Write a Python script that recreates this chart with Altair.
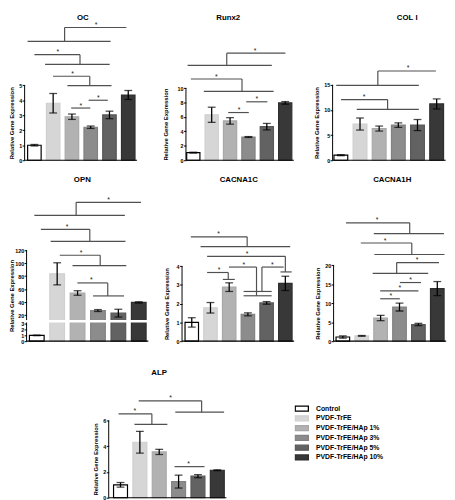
import altair as alt
import pandas as pd

FONT = "Liberation Sans"

categories = ["Control", "PVDF-TrFE", "PVDF-TrFE/HAp 1%", "PVDF-TrFE/HAp 3%",
              "PVDF-TrFE/HAp 5%", "PVDF-TrFE/HAp 10%"]
fill_colors = ["#ffffff", "#d6d6d6", "#b2b2b2", "#8c8c8c", "#626262", "#383838"]
stroke_colors = ["#000000", "#cfcfcf", "#a8a8a8", "#828282", "#585858", "#2e2e2e"]

# ---- values (mean, error) ----
oc_mean = [1.0, 3.8, 2.9, 2.2, 3.02, 4.35]
oc_err = [0.05, 0.65, 0.18, 0.08, 0.25, 0.3]
oc_ticks = [0, 1, 2, 3, 4, 5]
# bracket: upper x1, upper x2, upper y, vertical x, lower x1, lower x2, lower y, star x
oc_brackets = [(1.61, 4.90, 8.85, 1.61, -0.36, 4.06, 7.93, 3.28),
               (0.0, 2.43, 7.04, 2.43, 0.57, 4.01, 6.39, 1.25),
               (0.99, 2.95, 5.60, 2.95, 1.76, 4.11, 4.98, 2.03)]
# simple line: x1, x2, y, star x
oc_lines = [(1.96, 2.98, 3.48, 2.48), (2.89, 3.91, 4.0, 3.40)]

runx2_mean = [1.05, 6.3, 5.45, 3.22, 4.65, 7.95]
runx2_err = [0.06, 1.05, 0.45, 0.06, 0.45, 0.18]
runx2_ticks = [0, 2, 4, 6, 8, 10]
runx2_brackets = [(1.82, 5.01, 14.84, 1.82, -0.31, 4.27, 13.16, 3.36),
                  (-0.13, 2.65, 11.26, 2.65, 0.57, 4.37, 9.55, 1.25)]
runx2_lines = [(1.90, 3.02, 6.61, 2.49), (2.88, 4.03, 8.10, 3.45)]

col1_mean = [1.0, 7.2, 6.3, 7.0, 7.0, 11.2]
col1_err = [0.1, 1.2, 0.5, 0.45, 1.1, 1.0]
col1_ticks = [0, 5, 10, 15]
col1_brackets = [(1.93, 4.96, 17.76, 1.93, -0.24, 4.07, 14.90, 3.51),
                 (0.01, 2.44, 12.06, 2.44, 0.83, 4.07, 10.12, 1.21)]
col1_lines = []

opn_mean = [1.0, 83.5, 54.0, 27.0, 23.0, 39.5]
opn_err = [0.05, 17.0, 3.5, 1.5, 6.0, 1.0]
opn_ticks = [0, 1, 2, 3, 20, 40, 60, 80, 100, 120]
opn_brackets = [(1.93, 5.11, 193.5, 1.93, -0.12, 4.32, 173.5, 3.52),
                (0.20, 2.60, 151.9, 2.60, 0.68, 4.35, 133.5, 1.48),
                (1.13, 3.11, 112.1, 3.11, 1.75, 4.39, 96.0, 2.17),
                (1.99, 3.48, 69.5, 3.48, 2.76, 4.28, 49.5, 2.67)]
opn_lines = []

c1c_mean = [1.0, 1.78, 2.88, 1.43, 2.04, 3.08]
c1c_err = [0.25, 0.28, 0.23, 0.08, 0.07, 0.38]
c1c_ticks = [0, 1, 2, 3, 4]
c1c_brackets = [(-0.05, 2.96, 5.56, 2.96, 0.47, 5.26, 5.04, 1.43),
                (0.82, 5.0, 4.52, 5.0, 4.74, 5.34, 3.69, 2.96),
                (0.82, 1.95, 3.66, 1.95, 1.66, 2.30, 3.29, 1.46),
                (1.99, 3.46, 3.95, 3.46, 2.77, 4.27, 2.42, 2.78),
                (3.75, 4.91, 3.95, 3.75, 2.77, 4.27, 2.65, 4.30)]
c1c_lines = []

c1h_mean = [1.1, 1.4, 6.1, 9.0, 4.4, 13.85]
c1h_err = [0.3, 0.1, 0.7, 1.05, 0.3, 1.85]
c1h_ticks = [0, 5, 10, 15, 20]
c1h_brackets = [(0.17, 3.54, 31.15, 3.54, 1.64, 5.35, 28.31, 1.81),
                (0.95, 3.65, 25.84, 3.65, 1.67, 5.38, 22.83, 2.24),
                (2.85, 5.09, 20.69, 2.85, 1.58, 4.52, 17.86, 3.93)]
c1h_lines = [(3.02, 4.14, 15.44, 3.59), (1.98, 4.0, 13.23, 3.02), (1.98, 3.02, 11.17, 2.54)]

alp_mean = [1.0, 4.3, 3.55, 1.25, 1.67, 2.13]
alp_err = [0.18, 0.85, 0.2, 0.5, 0.12, 0.03]
alp_ticks = [0, 2, 4, 6]
alp_brackets = [(0.94, 4.19, 7.51, 4.19, 2.83, 5.35, 6.63, 2.58),
                (-0.10, 1.62, 6.5, 1.62, 0.72, 2.42, 5.69, 0.74)]
alp_lines = [(2.79, 4.34, 2.41, 3.52)]

LEGEND = alt.Legend(title=None, orient="none", legendX=292, legendY=391,
                    symbolType="M-1,-0.385H1V0.385H-1Z", symbolSize=180,
                    symbolStrokeWidth=1.3, clipHeight=10, rowPadding=0,
                    labelOffset=7, padding=0, labelFont=FONT, labelFontSize=7,
                    labelFontWeight="bold", labelColor="black")

LINE_COLOR = "#505050"


def make_panel(title, mean, err, ticks, brackets, lines, step, xmin, width, height,
               ydomain, yrange=None, title_dx=0.0, title_offset=2.0,
               ax_title_x=-14.0, ax_title_y=None, break_band=None):
    xmax = xmin + width / step
    xs = alt.Scale(domain=[xmin, xmax], nice=False, zero=False, padding=0)
    if yrange is None:
        ys = alt.Scale(domain=ydomain, nice=False, zero=False, padding=0)
    else:
        ys = alt.Scale(domain=ydomain, range=yrange, nice=False, zero=False, padding=0)

    bars = pd.DataFrame({
        "cat": categories,
        "idx": list(range(len(categories))),
        "mean": mean,
        "lo": [m - e for m, e in zip(mean, err)],
        "hi": [m + e for m, e in zip(mean, err)],
    })
    yaxis = alt.Axis(values=ticks, domain=False, grid=False, tickSize=2.5, tickWidth=1,
                     tickColor="black", labelFontSize=5.5, labelFontWeight="bold",
                     labelColor="black", labelPadding=0.5, labelFont=FONT,
                     title="Relative Gene Expression", titleFontSize=6,
                     titleFontWeight="bold", titleFont=FONT, titleColor="black",
                     titleAngle=270, titleX=ax_title_x, titleY=ax_title_y,
                     titleBaseline="middle", titleAlign="center")

    def X(field):
        return alt.X(field, type="quantitative", scale=xs, axis=None)

    def Y(field):
        return alt.Y(field, type="quantitative", scale=ys, axis=yaxis)

    bar_layer = alt.Chart(bars).mark_bar(orient="vertical", size=step * 0.72,
                                         strokeWidth=1.2).encode(
        x=X("idx"),
        y=Y("mean"),
        fill=alt.Fill("cat:N", scale=alt.Scale(domain=categories, range=fill_colors),
                      legend=LEGEND),
        stroke=alt.Stroke("cat:N", scale=alt.Scale(domain=categories, range=stroke_colors),
                          legend=LEGEND),
    )

    axis_df = pd.DataFrame({"x": [xmin], "xend": [5.47], "y0": [0], "ytop": [ticks[-1]]})
    yline = alt.Chart(axis_df).mark_rule(color="black", strokeWidth=1).encode(
        x=X("x"), y=Y("y0"), y2="ytop:Q")
    xline = alt.Chart(axis_df).mark_rule(color="black", strokeWidth=1.2).encode(
        x=X("x"), x2="xend:Q", y=Y("y0"))

    layers = [bar_layer, yline]
    if break_band is not None:
        band_df = pd.DataFrame({"x": [xmin - 0.12], "x2": [xmax], "y": [break_band[0]],
                                "y2": [break_band[1]]})
        layers.append(alt.Chart(band_df).mark_rect(fill="white").encode(
            x=X("x"), x2="x2:Q", y=Y("y"), y2="y2:Q"))
    layers.append(xline)

    err_rule = alt.Chart(bars).mark_rule(color="black", strokeWidth=1.3).encode(
        x=X("idx"), y=Y("lo"), y2="hi:Q")
    cap_lo = alt.Chart(bars).mark_tick(orient="horizontal", size=8, thickness=1.3,
                                       color="black").encode(x=X("idx"), y=Y("lo"))
    cap_hi = alt.Chart(bars).mark_tick(orient="horizontal", size=8, thickness=1.3,
                                       color="black").encode(x=X("idx"), y=Y("hi"))
    layers += [err_rule, cap_lo, cap_hi]

    hseg, vseg, stars = [], [], []
    for ux1, ux2, uy, vx, lx1, lx2, ly, sx in brackets:
        hseg.append({"x1": ux1, "x2": ux2, "y": uy})
        hseg.append({"x1": lx1, "x2": lx2, "y": ly})
        vseg.append({"x": vx, "y1": ly, "y2": uy})
        stars.append({"x": sx, "y": uy})
    for x1, x2, y, sx in lines:
        hseg.append({"x1": x1, "x2": x2, "y": y})
        stars.append({"x": sx, "y": y})

    if hseg:
        layers.append(alt.Chart(pd.DataFrame(hseg)).mark_rule(
            color=LINE_COLOR, strokeWidth=1.2).encode(
            x=X("x1"), x2="x2:Q", y=Y("y")))
    if vseg:
        layers.append(alt.Chart(pd.DataFrame(vseg)).mark_rule(
            color=LINE_COLOR, strokeWidth=1.2).encode(
            x=X("x"), y=Y("y1"), y2="y2:Q"))
    if stars:
        layers.append(alt.Chart(pd.DataFrame(stars)).mark_text(
            text="*", font=FONT, fontSize=7, baseline="alphabetic", align="center",
            color="#222222", dy=-0.5).encode(x=X("x"), y=Y("y")))

    return alt.layer(*layers).properties(
        width=width, height=height,
        title=alt.TitleParams(text=title, font=FONT, fontSize=8, fontWeight="bold",
                              color="black", anchor="middle", frame="group",
                              offset=title_offset, dx=title_dx),
    )


def spacer(w):
    return alt.Chart(pd.DataFrame({"v": [0]})).mark_point(size=1, opacity=0).encode(
        x=alt.X("v:Q", axis=None, scale=alt.Scale(domain=[0, 1])),
        y=alt.Y("v:Q", axis=None, scale=alt.Scale(domain=[0, 1])),
    ).properties(width=w, height=1)


oc = make_panel("OC", oc_mean, oc_err, oc_ticks, oc_brackets, oc_lines,
                step=19.2, xmin=-0.52, width=116, height=142, ydomain=[0, 9.26],
                title_dx=1.5, title_offset=-0.5, ax_title_x=-13, ax_title_y=103.7)
runx2 = make_panel("Runx2", runx2_mean, runx2_err, runx2_ticks, runx2_brackets, runx2_lines,
                   step=18.8, xmin=-0.40, width=113, height=142, ydomain=[0, 19.25],
                   title_dx=-13.3, title_offset=-0.5, ax_title_x=-20.5, ax_title_y=105.1)
col1 = make_panel("COL I", col1_mean, col1_err, col1_ticks, col1_brackets, col1_lines,
                  step=19.6, xmin=-0.43, width=114, height=142, ydomain=[0, 27.63],
                  title_dx=19.3, title_offset=-0.5, ax_title_x=-16.5, ax_title_y=103.5)

opn = make_panel("OPN", opn_mean, opn_err, opn_ticks, opn_brackets, opn_lines,
                 step=20.86, xmin=-0.50, width=125, height=153,
                 ydomain=[0, 3.2, 12.5, 210], yrange=[153, 134, 131.3, 0],
                 title_dx=-5.5, title_offset=7.5, ax_title_x=-15, ax_title_y=106.3,
                 break_band=(3.3, 12.45))
c1c = make_panel("CACNA1C", c1c_mean, c1c_err, c1c_ticks, c1c_brackets, c1c_lines,
                 step=19.14, xmin=-0.52, width=116, height=153, ydomain=[0, 7.97],
                 title_dx=0, title_offset=7.5, ax_title_x=-16, ax_title_y=114.6)
c1h = make_panel("CACNA1H", c1h_mean, c1h_err, c1h_ticks, c1h_brackets, c1h_lines,
                 step=19.32, xmin=-0.49, width=113, height=153, ydomain=[0, 39.38],
                 title_dx=3.5, title_offset=7.5, ax_title_x=-16.3, ax_title_y=114.2)

alp = make_panel("ALP", alp_mean, alp_err, alp_ticks, alp_brackets, alp_lines,
                 step=19.8, xmin=-0.61, width=121, height=109, ydomain=[0, 8.26],
                 title_dx=-9, title_offset=14.7, ax_title_x=-13, ax_title_y=69.4)

row1 = alt.hconcat(spacer(16), oc, spacer(49), runx2, spacer(37), col1,
                   spacing=0, bounds="flush")
row2 = alt.hconcat(spacer(18), opn, spacer(34), c1c, spacer(38.3), c1h,
                   spacing=0, bounds="flush")
row3 = alt.hconcat(spacer(102), alp, spacing=0, bounds="flush")

top = alt.vconcat(row1, row2, spacing=12.1)
chart = alt.vconcat(top, row3, spacing=24.2).properties(padding=0).configure(
    font=FONT).configure_view(stroke=None)

chart.save("out.html", embed_options={"renderer": "svg", "actions": False})
